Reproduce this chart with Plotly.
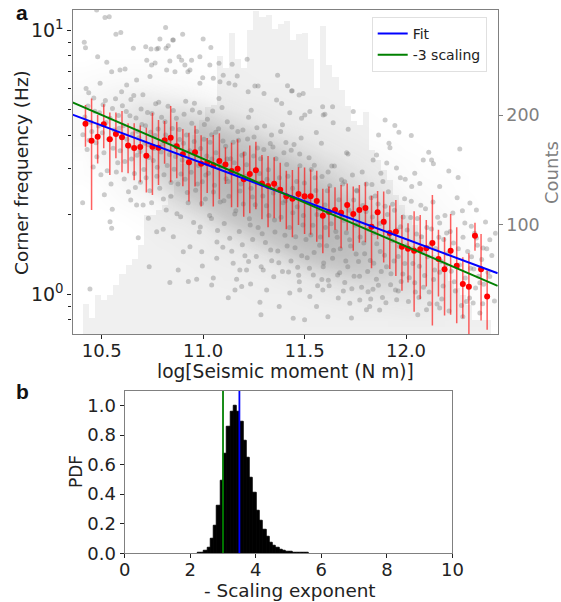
import plotly.graph_objects as go

moment_bins = [10.42,10.45,10.48,10.51,10.54,10.57,10.60,10.63,10.66,10.69,10.72,10.75,10.78,10.81,10.84,10.87,10.90,10.93,10.96,10.99,
 11.02,11.05,11.08,11.11,11.14,11.17,11.20,11.23,11.26,11.29,11.32,11.35,11.38,11.41,11.44,11.47,11.50,11.53,11.56,11.59,
 11.62,11.65,11.68,11.71,11.74,11.77,11.80,11.83,11.86,11.89,11.92,11.95,11.98,12.01,12.04,12.07,12.10,12.13,12.16,12.19,
 12.22,12.25,12.28,12.31,12.34,12.37,12.40]
counts = [28,15,36,31,36,45,55,63,69,81,109,109,113,118,127,141,155,168,182,196,207,209,254,243,275,251,243,278,295,290,291,279,283,286,269,274,275,251,225,281,246,235,223,208,195,191,203,168,159,150,141,127,118,109,100,91,81,72,65,59,49,42,36,27,13,13,13]
log_mean = [.646,.582,.597,.644,.587,.607,.595,.564,.554,.558,.525,.559,.555,.583,.593,.561,.530,.500,.538,.494,.498,.489,.505,.492,.467,.475,.436,.456,.470,.420,.410,.419,.396,.371,.362,.380,.371,.371,.353,.297,.312,.319,.309,.338,.304,.319,.327,.256,.311,.275,.232,.237,.180,.172,.165,.170,.174,.194,.133,.095,.165,.108,.039,.028,.222,.095,-.009]
log_top = [.717,.742,.679,.720,.689,.689,.694,.648,.648,.639,.631,.688,.660,.656,.713,.654,.626,.612,.638,.602,.592,.603,.610,.557,.574,.587,.540,.564,.578,.528,.524,.519,.498,.468,.471,.481,.480,.473,.468,.400,.408,.405,.414,.420,.408,.414,.424,.373,.391,.389,.336,.357,.300,.269,.314,.300,.281,.376,.244,.216,.304,.254,.140,.155,.271,.228,.089]
log_bottom = [.559,.319,.495,.553,.452,.515,.462,.458,.432,.424,.385,.376,.414,.494,.424,.439,.409,.351,.408,.332,.384,.332,.360,.418,.330,.330,.294,.307,.322,.284,.254,.288,.275,.246,.216,.262,.228,.225,.199,.155,.216,.244,.174,.241,.165,.195,.197,.098,.208,.120,.096,.069,.013,.044,-.066,-.018,.029,-.119,-.009,-.081,-.078,-.110,-.091,-.173,.165,-.100,-.135]

fit_x = [10.356, 12.452]
fit_fc = [4.79, 1.20]
minus3_fc = [5.33, 1.075]

# Darkness of the dense event cloud, read per moment column from low to high log10(fc)
cloud_x = [10.4,10.5,10.6,10.7,10.8,10.9,11.0,11.1,11.2,11.3,11.4,11.5,11.6,11.7,11.8,11.9,12.0,12.1,12.2,12.3,12.4]
cloud_log = [-.10,-.05,0,.05,.10,.15,.20,.25,.30,.35,.40,.45,.50,.55,.60,.65,.70,.75,.80,.85,.90]
cloud_columns = [
[0,0,0,0,0,0,0,0,0,0,0,.03,.03,.05,.08,.08,.08,.08,.05,.03,0],
[0,0,0,0,0,0,0,0,0,.02,.03,.05,.1,.12,.15,.15,.15,.12,.08,.04,.02],
[0,0,0,0,0,0,0,0,.02,.05,.08,.12,.18,.22,.25,.25,.22,.18,.1,.05,.02],
[0,0,0,0,0,0,0,.02,.04,.08,.16,.25,.32,.38,.40,.38,.3,.2,.1,.05,.02],
[0,0,0,0,0,0,.02,.04,.08,.16,.32,.45,.55,.58,.55,.45,.32,.18,.08,.04,.02],
[0,0,0,0,0,.02,.03,.06,.15,.3,.5,.65,.7,.7,.62,.5,.32,.16,.07,.03,.01],
[0,0,0,0,.02,.03,.05,.12,.28,.48,.68,.78,.8,.75,.65,.45,.26,.12,.05,.02,.01],
[0,0,0,.02,.03,.05,.12,.28,.48,.68,.82,.85,.82,.72,.55,.32,.15,.07,.03,.01,0],
[0,0,.01,.02,.04,.1,.24,.45,.68,.85,.9,.88,.8,.62,.42,.22,.1,.04,.02,.01,0],
[0,.01,.02,.03,.08,.2,.42,.65,.85,.92,.92,.85,.7,.48,.28,.13,.07,.03,.01,0,0],
[0,.01,.02,.06,.15,.34,.6,.82,.92,.95,.88,.72,.52,.33,.18,.08,.04,.02,.01,0,0],
[.01,.02,.05,.12,.28,.52,.78,.9,.92,.88,.72,.55,.38,.22,.12,.05,.03,.01,0,0,0],
[.01,.03,.08,.2,.4,.65,.82,.85,.85,.72,.55,.38,.25,.14,.08,.04,.02,.01,0,0,0],
[.02,.04,.12,.28,.48,.68,.75,.75,.68,.52,.36,.25,.16,.09,.05,.02,.01,0,0,0,0],
[.02,.06,.16,.32,.48,.58,.6,.55,.45,.32,.22,.15,.1,.06,.03,.02,.01,0,0,0,0],
[.02,.08,.2,.32,.42,.45,.42,.36,.28,.2,.14,.09,.06,.04,.02,.01,0,0,0,0,0],
[.03,.1,.2,.28,.32,.32,.28,.22,.16,.12,.08,.05,.04,.02,.01,0,0,0,0,0,0],
[.03,.08,.15,.2,.22,.2,.17,.13,.1,.07,.05,.03,.02,.01,0,0,0,0,0,0,0],
[.02,.05,.1,.12,.13,.12,.1,.08,.06,.04,.03,.02,.01,0,0,0,0,0,0,0,0],
[.01,.03,.05,.07,.07,.07,.05,.04,.03,.02,.01,.01,0,0,0,0,0,0,0,0,0],
[.01,.02,.03,.03,.03,.03,.02,.01,0,0,0,0,0,0,0,0,0,0,0,0,0],
]

# (log moment, log10 corner frequency) of individual events
scatter_points = [
(10.475,1.077),(10.516,1.049),(10.537,1.051),(10.57,.985),(10.594,.992),(10.414,.955),(10.42,.934),(10.656,.932),(10.717,.938),(10.743,.929),(10.787,.967),(10.85,.963),(10.899,.985),(11.0,.967),(10.828,.942),(10.771,.929),(10.48,.900),(10.525,.879),(10.59,.85),(10.615,.853),(10.549,.843),(10.722,.887),(10.746,.869),(10.763,.876),(10.836,.884),(10.894,.887),(10.91,.869),(10.943,.887),(10.984,.9),(11.033,.869),(10.935,.85),(10.82,.85),(10.623,.793),(10.492,.799),(10.423,.78),(10.672,.812),(10.738,.825),(10.861,.843),(10.984,.799),(11.05,.818),(11.083,.805),
(10.815,1.011),(10.853,.963),(11.038,.935),(10.779,.932),(10.817,.932),(10.881,.9),(10.925,.843),(11.078,.875),(11.143,.871),(11.217,.89),(11.168,.827),(11.099,.83),(11.367,.83),(10.998,.82),(11.127,.799),(11.157,.793),(11.255,.789),(11.271,.789),(11.416,.79),(11.436,.77),(11.493,.761),(11.473,.755),(11.222,.767),(11.589,.71),(11.638,.71),(11.6,.682),(11.526,.692),(11.501,.679),(11.427,.688),(11.485,.667),(11.387,.723),(11.3,.761),(11.362,.736),
(11.439,.771),(11.592,.679),(11.641,.65),(11.74,.692),(11.715,.625),(11.897,.66),(11.945,.639),(11.965,.614),(11.865,.603),(12.026,.601),(11.916,.572),(11.921,.555),(12.265,.55),(12.112,.538),(12.085,.509),(12.126,.509),(12.135,.494),(12.211,.467),(12.257,.442),(12.043,.458),(12.068,.42),(12.166,.408),(11.838,.509),(11.855,.528),(11.905,.497),(11.953,.478),(11.972,.441),(12.028,.408),
(12.315,.346),(12.231,.308),(12.29,.27),(12.347,.319),(12.2,.232),(12.166,.27),(12.347,.213),(12.413,.206),(12.323,.142),(12.38,.175),(12.413,.067),(12.364,.043),(12.331,-.033),(12.28,-.085),(12.166,-.052),(12.101,-.059),(12.058,-.078),(11.87,-.06),(11.805,-.059),(11.731,-.09),(11.615,-.085),(11.444,-.091),(11.50,-.097),(11.559,-.047),(11.666,-.014),(11.723,-.034),(11.772,-.022),(11.821,-.047),(11.427,.005),(11.476,.016),(11.526,-.009),(11.59,.016),
(10.442,.02),(10.406,.347),(10.541,.275),(10.549,.25),(10.552,.322),(10.513,.377),(10.643,.357),(10.734,.104),(10.877,.092),(10.902,.161),(10.935,.18),(10.993,.161),(10.996,.107),(11.067,.136),(11.148,.117),(11.181,.092),(11.214,.092),(11.296,.092),(10.836,.044),(10.927,.048),(10.968,.057),(11.05,.061),(11.042,.035),(11.165,.057),(11.19,.029),(11.234,.039),(11.157,.016),(11.313,.016),(11.124,-.013),(11.28,-.03),(11.285,-.078),(11.375,-.047),(10.73,.288),(10.771,.237),(10.803,.246),(10.853,.218),(10.704,.338),(10.672,.338),(10.68,.214),
(10.432,.713),(10.447,.652),(10.461,.744),(10.438,.583),(10.476,.521),(10.489,.688),(10.503,.612),(10.518,.734),(10.527,.468),(10.541,.667),(10.556,.553),(10.568,.741),(10.579,.498),(10.586,.629),(10.602,.714),(10.611,.437),(10.624,.587),(10.639,.676),(10.647,.512),(10.658,.753),(10.666,.404),(10.677,.618),(10.689,.541),(10.694,.702),(10.708,.473),(10.716,.638),(10.729,.566),(10.737,.392),(10.748,.685),(10.754,.507),(10.763,.601),(10.772,.447),(10.781,.727),(10.793,.539),(10.804,.361),(10.812,.654),(10.823,.488),(10.831,.583),(10.842,.423),(10.853,.696),(10.864,.522),(10.871,.305),(10.882,.624),(10.891,.456),(10.903,.572),(10.914,.731),(10.922,.385),(10.931,.497),(10.944,.648),(10.953,.272),(10.961,.533),(10.972,.418),(10.983,.689),(10.992,.344),
(11.004,.587),(11.013,.452),(11.021,.663),(11.032,.298),(11.043,.512),(11.051,.387),(11.062,.614),(11.071,.241),(11.082,.479),(11.093,.708),(11.102,.354),(11.111,.561),(11.124,.427),(11.131,.212),(11.142,.634),(11.153,.498),(11.161,.316),(11.174,.583),(11.182,.391),(11.193,.187),(11.203,.532),(11.211,.447),(11.224,.671),(11.232,.262),(11.243,.368),(11.251,.596),(11.262,.143),(11.274,.421),(11.283,.513),(11.291,.229),(11.303,.637),(11.312,.335),(11.321,.472),(11.333,.168),(11.344,.558),(11.352,.281),(11.361,.404),(11.373,.119),(11.382,.617),(11.394,.347),(11.403,.223),(11.412,.492),(11.421,.084),(11.434,.546),(11.442,.309),(11.453,.176),(11.461,.427),(11.474,.047),(11.483,.592),(11.492,.262),
(11.504,.369),(11.513,.138),(11.522,.517),(11.531,.224),(11.543,.073),(11.552,.441),(11.561,.302),(11.574,.186),(11.583,.572),(11.592,.104),(11.603,.253),(11.612,.392),(11.621,.032),(11.634,.486),(11.643,.167),(11.652,.317),(11.661,.216),(11.673,.081),(11.682,.434),(11.694,.279),(11.703,.126),(11.714,.531),(11.722,.206),(11.733,.021),(11.742,.357),(11.754,.152),(11.763,.268),(11.771,.068),(11.784,.463),(11.792,.194),(11.803,.313),(11.813,.009),(11.824,.128),(11.832,.416),(11.843,.232),(11.854,.057),(11.862,.342),(11.873,.162),(11.884,-.012),(11.892,.271),(11.904,.104),(11.913,.388),(11.924,.036),(11.932,.203),(11.943,.318),(11.954,-.021),(11.962,.143),(11.973,.256),(11.984,.077),(11.993,.362),
(12.004,.184),(12.012,-.028),(12.023,.291),(12.034,.116),(12.043,.043),(12.052,.228),(12.064,-.012),(12.073,.337),(12.081,.159),(12.092,.071),(12.103,.253),(12.114,.008),(12.122,.187),(12.133,.349),(12.141,.092),(12.153,-.037),(12.162,.216),(12.174,.124),(12.183,.031),(12.192,.298),(12.204,.153),(12.212,-.064),(12.223,.087),(12.234,.194),(12.243,.012),(12.252,.366),(12.264,.111),(12.273,-.043),(12.281,.216),(12.292,.061),(12.304,.162),(12.313,-.014),(12.322,.258),(12.334,.096),(12.343,.024),(12.352,.186),(12.364,-.071),(12.373,.132),(12.383,.038),(12.392,.274),(12.404,.083),(12.423,.147),(12.436,-.026),(12.441,.231),
(11.042,.604),(11.118,.512),(11.196,.622),(11.268,.554),(11.337,.603),(11.408,.575),(11.476,.531),(11.548,.489),(11.616,.463),(11.688,.418),(11.757,.394),(11.828,.366),(11.897,.333),(10.957,.724),(11.078,.742),(11.237,.697),(11.391,.642),(11.558,.613),(11.707,.536),(11.876,.458),(11.996,.436),(10.986,.255),(11.097,.178),(11.224,.124),(11.348,.066),(11.466,.102),(11.585,.056),(11.698,.044),(11.837,.019),(11.962,.012),
]

# further events inside the band around the fit
band_points = [
(10.407,.604),(10.417,.672),(10.428,.548),(10.436,.763),(10.451,.617),(10.458,.482),(10.466,.693),(10.472,.574),(10.484,.637),(10.496,.453),(10.507,.718),(10.511,.536),(10.522,.651),(10.534,.587),(10.546,.418),(10.553,.704),(10.561,.622),(10.572,.463),(10.583,.677),(10.591,.544),(10.598,.767),(10.606,.638),(10.614,.503),(10.621,.692),(10.632,.388),(10.637,.561),(10.644,.738),(10.652,.607),(10.661,.457),(10.669,.668),(10.674,.527),(10.683,.593),(10.691,.424),(10.698,.643),(10.703,.756),(10.712,.572),(10.719,.441),(10.726,.689),(10.733,.518),(10.741,.614),(10.746,.347),(10.757,.552),(10.766,.722),(10.774,.481),(10.778,.626),(10.786,.402),(10.795,.671),(10.799,.568),(10.807,.453),(10.815,.603),(10.818,.319),(10.827,.712),(10.834,.529),(10.841,.371),(10.848,.628),(10.857,.474),(10.861,.564),(10.868,.667),(10.876,.418),(10.884,.586),(10.889,.294),(10.897,.509),(10.906,.682),(10.911,.436),(10.918,.603),(10.926,.347),(10.934,.544),(10.941,.462),(10.947,.698),(10.956,.579),(10.963,.394),(10.968,.617),(10.977,.488),(10.981,.236),(10.988,.552),(10.996,.426),
(11.006,.643),(11.011,.361),(11.018,.524),(11.026,.458),(11.034,.576),(11.041,.287),(11.047,.694),(11.056,.413),(11.063,.536),(11.068,.198),(11.076,.627),(11.084,.349),(11.089,.488),(11.098,.581),(11.104,.268),(11.113,.438),(11.119,.654),(11.127,.371),(11.136,.513),(11.141,.163),(11.148,.576),(11.156,.304),(11.164,.463),(11.171,.617),(11.178,.238),(11.186,.418),(11.191,.527),(11.198,.342),(11.206,.146),(11.214,.491),(11.219,.588),(11.228,.286),(11.236,.402),(11.244,.207),(11.249,.524),(11.257,.339),(11.265,.631),(11.271,.253),(11.278,.457),(11.286,.104),(11.294,.372),(11.299,.548),(11.307,.196),(11.315,.436),(11.324,.298),(11.331,.571),(11.338,.127),(11.346,.384),(11.354,.236),(11.359,.513),(11.368,.164),(11.376,.441),(11.384,.292),(11.391,.086),(11.398,.536),(11.406,.354),(11.414,.183),(11.418,.447),(11.426,.253),(11.433,.126),(11.441,.402),(11.448,.567),(11.456,.218),(11.464,.331),(11.471,.072),(11.477,.487),(11.486,.146),(11.494,.298),(11.499,.421),
(11.507,.207),(11.516,.356),(11.524,.098),(11.533,.473),(11.541,.261),(11.547,.158),(11.556,.393),(11.564,.032),(11.571,.324),(11.578,.217),(11.586,.446),(11.594,.118),(11.601,.338),(11.609,.184),(11.617,.053),(11.624,.411),(11.631,.267),(11.638,.136),(11.647,.486),(11.654,.238),(11.663,.073),(11.669,.358),(11.676,.172),(11.684,.293),(11.691,.012),(11.698,.426),(11.706,.233),(11.713,.104),(11.719,.318),(11.727,.183),(11.736,.452),(11.744,.068),(11.751,.261),(11.758,.391),(11.766,.124),(11.774,.217),(11.781,.026),(11.787,.336),(11.796,.153),(11.804,.418),(11.811,.086),(11.817,.246),(11.826,-.018),(11.834,.293),(11.841,.117),(11.848,.372),(11.856,.191),(11.864,.034),(11.871,.268),(11.878,.086),(11.886,.427),(11.894,.148),(11.901,-.032),(11.908,.302),(11.916,.219),(11.926,.078),(11.934,.341),(11.941,.126),(11.948,.016),(11.956,.243),(11.967,.182),(11.976,.048),(11.986,.293),(11.994,.116),
(12.006,.243),(12.016,.062),(12.026,.352),(12.036,.172),(12.046,.008),(12.056,.287),(12.066,.106),(12.076,.218),(12.086,.026),(12.096,.324),(12.106,.142),(12.116,-.036),(12.126,.247),(12.136,.056),(12.146,.173),(12.156,.292),(12.166,.083),(12.176,-.018),(12.186,.207),(12.196,.112),(12.218,.238),(12.238,.047),(12.258,.172),(12.278,.316),(12.298,-.028),(12.318,.098),(12.338,.231),(12.358,.068),(12.378,-.036),(12.398,.172),
]

exponent_bins = [2.27,2.37,2.47,2.57,2.67,2.77,2.87,2.97,3.07,3.17,3.27,3.37,3.47,3.57,3.67,3.77,3.87,3.97,4.07,4.17,4.27,4.37,4.47,4.57,4.67,4.77,4.87,4.97,5.07,5.17,5.27,5.37,5.47,5.57]
pdf_values = [.003,.006,.015,.04,.10,.19,.32,.49,.675,.855,.96,1.0,.96,.89,.76,.65,.51,.41,.285,.22,.158,.113,.074,.054,.038,.027,.02,.014,.01,.007,.005,.004,.003,.002]
exponent_fit = 3.5
exponent_reference = 3.0
line_span = [0, 1.1]

FONT = "DejaVu Sans"
W, H = 561, 602
GREY = "#808080"
TICK = "#222222"

fig = go.Figure()

fig.add_trace(go.Bar(x=moment_bins, y=counts, width=0.03, marker=dict(color="#f0f0f0", line_width=0),
                     xaxis="x", yaxis="y", showlegend=False))

fig.add_trace(go.Heatmap(x=cloud_x, y=[10 ** v for v in cloud_log], z=[list(r) for r in zip(*cloud_columns)],
                         zmin=0, zmax=1, zsmooth="best", showscale=False, hoverinfo="skip",
                         colorscale=[[0, "rgba(140,140,140,0)"], [0.15, "rgba(140,140,140,0.1)"],
                                     [0.5, "rgba(140,140,140,0.4)"], [1, "rgba(140,140,140,0.62)"]],
                         xaxis="x", yaxis="y2"))

all_points = scatter_points + band_points
fig.add_trace(go.Scatter(x=[p[0] for p in all_points], y=[10 ** p[1] for p in all_points],
                         mode="markers", marker=dict(color="rgba(115,115,115,0.36)", size=5, line_width=0),
                         xaxis="x", yaxis="y2", showlegend=False))

fc_mean = [10 ** v for v in log_mean]
fig.add_trace(go.Scatter(x=moment_bins, y=fc_mean, mode="markers",
                         marker=dict(color="#ff0000", size=6),
                         error_y=dict(type="data", symmetric=False,
                                      array=[10 ** t - m for t, m in zip(log_top, fc_mean)],
                                      arrayminus=[m - 10 ** b for b, m in zip(log_bottom, fc_mean)],
                                      color="rgba(255,0,0,0.62)", thickness=1.5, width=0),
                         xaxis="x", yaxis="y2", showlegend=False))

fig.add_trace(go.Scatter(x=fit_x, y=fit_fc, mode="lines", name="Fit",
                         line=dict(color="#0000ff", width=2), xaxis="x", yaxis="y2"))
fig.add_trace(go.Scatter(x=fit_x, y=minus3_fc, mode="lines", name="-3 scaling",
                         line=dict(color="#008000", width=2), xaxis="x", yaxis="y2"))

fig.add_trace(go.Bar(x=exponent_bins, y=pdf_values, width=0.1, marker=dict(color="#000000", line=dict(color="#000000", width=0.9)),
                     xaxis="x2", yaxis="y3", showlegend=False))
fig.add_trace(go.Scatter(x=[exponent_reference, exponent_reference], y=line_span, mode="lines",
                         line=dict(color="#008000", width=1.8), xaxis="x2", yaxis="y3", showlegend=False))
fig.add_trace(go.Scatter(x=[exponent_fit, exponent_fit], y=line_span, mode="lines",
                         line=dict(color="#0000ff", width=1.8), xaxis="x2", yaxis="y3", showlegend=False))

axis_common = dict(showgrid=False, zeroline=False, showline=True, linecolor=GREY, linewidth=1.3, automargin=False,
                   ticks="outside", ticklen=4, tickwidth=1, tickcolor=TICK, tickfont=dict(size=18, color=TICK))

minor_vals = [0.7, 0.8, 0.9, 2, 3, 4, 5, 6, 7, 8, 9]


def label(text, x, y, size=18, color=TICK, angle=0, family=FONT):
    return dict(text=text, x=x / W, y=1 - y / H, xref="paper", yref="paper", showarrow=False, textangle=angle,
                font=dict(family=family, size=size, color=color), xanchor="center", yanchor="middle")


fig.update_layout(
    width=W, height=H, margin=dict(l=0, r=0, t=0, b=0), paper_bgcolor="white", plot_bgcolor="white",
    font=dict(family=FONT, color=TICK), barmode="overlay", bargap=0,
    xaxis=dict(domain=[72.5 / W, 497.7 / W], range=[10.356, 12.452], anchor="y2", ticklabelstandoff=-4,
               tickvals=[10.5, 11.0, 11.5, 12.0], ticktext=["10.5", "11.0", "11.5", "12.0"], mirror=True,
               **axis_common),
    yaxis=dict(domain=[1 - 334.2 / H, 1 - 10 / H], range=[0, 296], side="right", anchor="x", automargin=False,
               tickvals=[100, 200], showgrid=False, zeroline=False, showline=True, linecolor=GREY, linewidth=1.3,
               ticks="outside", ticklen=4, tickwidth=1, tickcolor=GREY, tickfont=dict(size=17.5, color=GREY)),
    yaxis2=dict(type="log", domain=[1 - 334.2 / H, 1 - 10 / H], range=[-0.1515, 1.077], overlaying="y", side="left",
                anchor="x", showgrid=False, zeroline=False, showline=True, linecolor=GREY, linewidth=1.3, automargin=False,
                tickvals=[1, 10], ticktext=["10<sup>0</sup>", "10<sup>1</sup>"],
                ticks="outside", ticklen=4, tickwidth=1, tickcolor=TICK, tickfont=dict(size=19, color=TICK),
                minor=dict(tickvals=minor_vals, ticks="outside", ticklen=3, tickwidth=1, tickcolor=TICK)),
    xaxis2=dict(domain=[124.7 / W, 452.4 / W], range=[0, 10], anchor="y3", tickvals=[0, 2, 4, 6, 8, 10], mirror=True,
                ticklabelstandoff=-4, **axis_common),
    yaxis3=dict(domain=[1 - 553.3 / H, 1 - 390.7 / H], range=[0, 1.1], anchor="x2", tickvals=[0, .2, .4, .6, .8, 1.0],
                tickformat=".1f", mirror=True, **axis_common),
    legend=dict(x=371.7 / W, y=1 - 17 / H, xanchor="left", yanchor="top", bgcolor="rgba(255,255,255,0.8)",
                bordercolor="#e0e0e0", borderwidth=1, font=dict(size=14, color=TICK), traceorder="normal"),
    annotations=[
        label("<b>a</b>", 22, 12, size=21, color="#111111", family="Liberation Sans"),
        label("<b>b</b>", 22, 391, size=21, color="#111111", family="Liberation Sans"),
        label("Corner frequency (Hz)", 22, 173, size=18.5, angle=-90),
        label("log[Seismic moment (N m)]", 285, 371, size=18.6),
        label("Counts", 552, 173, color=GREY, angle=-90),
        label("PDF", 76, 472, size=17, angle=-90),
        label("- Scaling exponent", 290, 590, size=18.4),
    ],
)

assert len(moment_bins) == len(counts) == len(log_mean) == len(log_top) == len(log_bottom)
fig.write_html("out.html", config={"displayModeBar": False}, post_script="document.body.style.margin='0';")
